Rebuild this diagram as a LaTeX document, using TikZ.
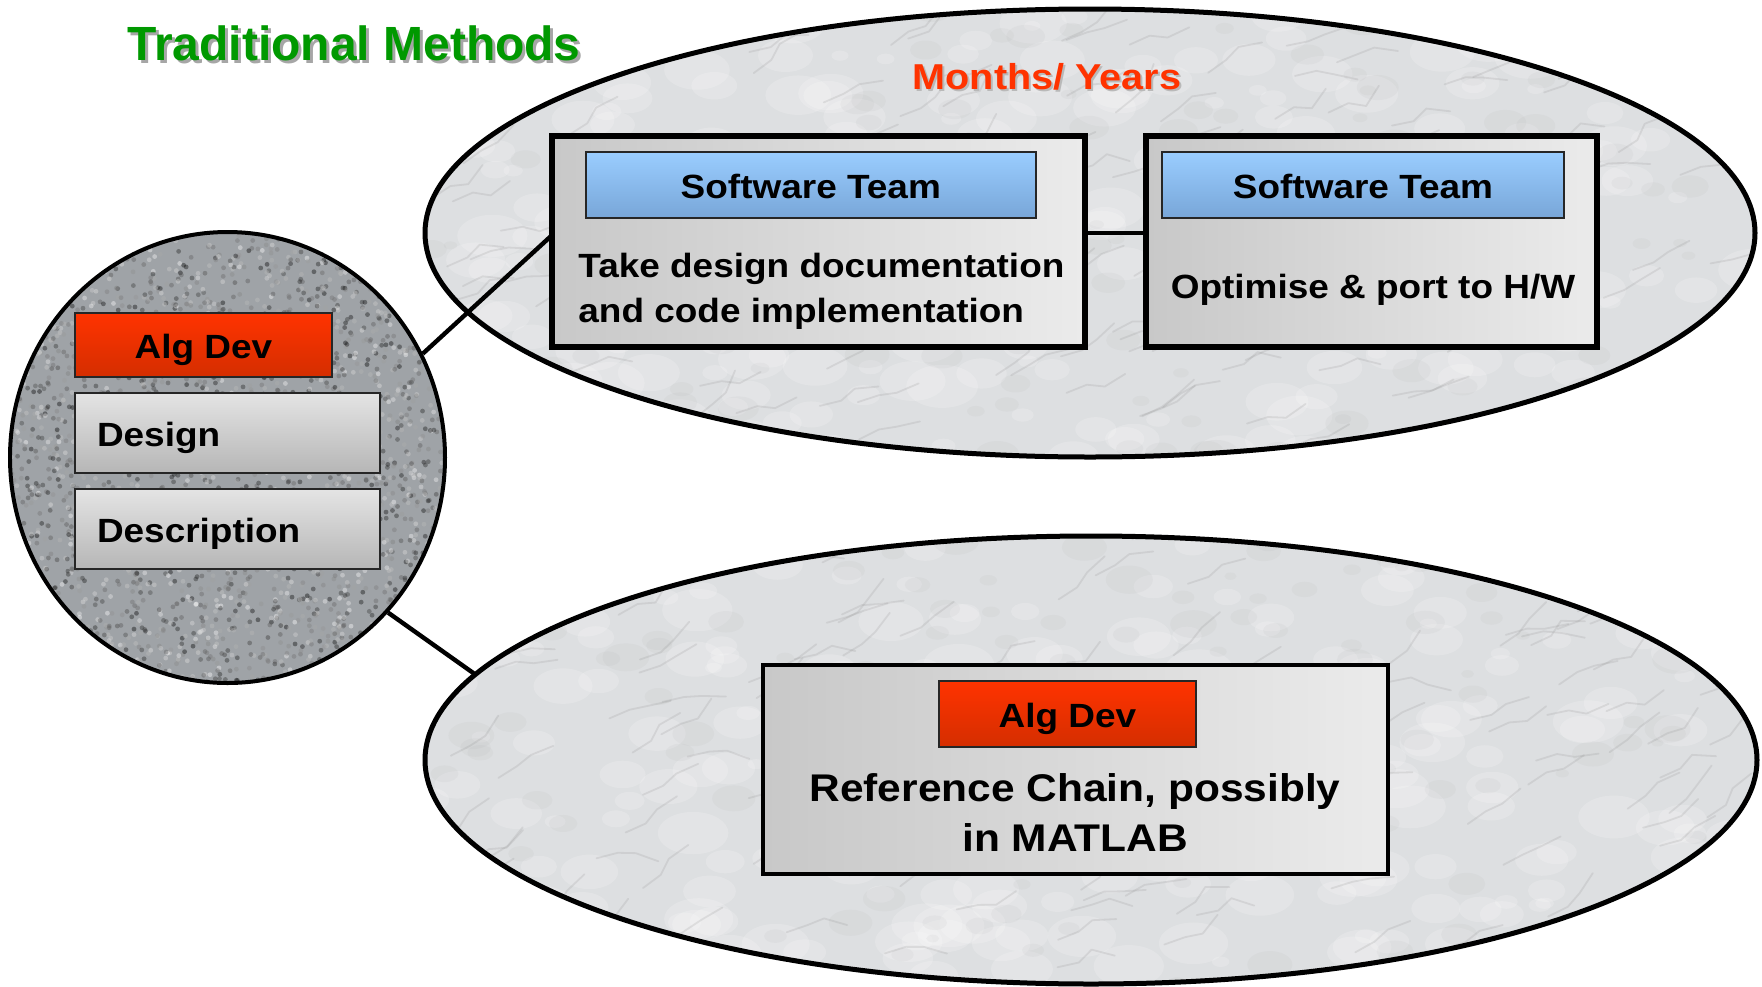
\documentclass[tikz,border=0pt]{standalone}
\usepackage{fontspec}
\setmainfont{Liberation Sans}
\newfontfamily\bodyfont{Liberation Sans}[FakeStretch=1.1]
\usetikzlibrary{shapes.geometric}
\definecolor{titlegreen}{HTML}{009900}
\definecolor{monthred}{HTML}{FF3300}
\definecolor{hdrbluetop}{HTML}{9ACDFF}
\definecolor{hdrbluebot}{HTML}{78A6D8}
\definecolor{hdrredtop}{HTML}{FF3300}
\definecolor{hdrredbot}{HTML}{D42E00}
\definecolor{boxleft}{HTML}{C8C8C8}
\definecolor{boxright}{HTML}{EBEBEB}
\definecolor{itemtop}{HTML}{E4E4E4}
\definecolor{itembot}{HTML}{B6B6B6}
\definecolor{marble}{HTML}{DDDFE1}
\definecolor{granite}{HTML}{9FA3A7}
\tikzset{
  bodytext/.style={font=\bodyfont\bfseries\fontsize{16.8pt}{20pt}\selectfont},
  bigbox/.style={draw=black, line width=2pt, left color=boxleft, right color=boxright, inner sep=0pt, minimum height=104.5pt},
  hdr/.style={draw=black!85, line width=0.8pt, inner sep=0pt, minimum height=33pt, text height=13pt, text depth=0pt, bodytext},
  hdrblue/.style={hdr, top color=hdrbluetop, bottom color=hdrbluebot},
  hdrred/.style={hdr, top color=hdrredtop, bottom color=hdrredbot},
  itembox/.style={draw=black!85, line width=0.8pt, top color=itemtop, bottom color=itembot, minimum height=40pt, inner xsep=11pt, inner ysep=0pt, text width=130.5pt, align=left, text height=13.5pt, text depth=0pt, bodytext},
  oval/.style={draw=black, ellipse, inner sep=0pt},
  conn/.style={draw=black, line width=2.2pt},
}
\begin{document}
\begin{tikzpicture}[x=0.5pt,y=-0.5pt]
\useasboundingbox (0,0) rectangle (1762,986);
\fill[white] (0,0) rectangle (1762,986);
\pgfmathsetseed{7}
% marble textures
\foreach \ccx/\ccy in {1090/233, 1091/760}{
\begin{scope}
\clip (\ccx,\ccy) ellipse [x radius=665, y radius=224];
\fill[marble] (\ccx-670,\ccy-230) rectangle (\ccx+670,\ccy+230);
\foreach \i in {1,...,260}{
  \pgfmathsetmacro\mx{\ccx-665+rnd*1330}
  \pgfmathsetmacro\my{\ccy-224+rnd*448}
  \pgfmathsetmacro\mr{8+rnd*28}
  \pgfmathsetmacro\mrr{0.6*\mr}
  \fill[white,opacity=0.18] (\mx,\my) ellipse [x radius=\mr, y radius=\mrr];
}
\foreach \i in {1,...,140}{
  \pgfmathsetmacro\mx{\ccx-665+rnd*1330}
  \pgfmathsetmacro\my{\ccy-224+rnd*448}
  \pgfmathsetmacro\mr{6+rnd*18}
  \pgfmathsetmacro\mrr{0.6*\mr}
  \fill[black!40,opacity=0.07] (\mx,\my) ellipse [x radius=\mr, y radius=\mrr];
}
\foreach \i in {1,...,140}{
  \pgfmathsetmacro\mx{\ccx-665+rnd*1330}
  \pgfmathsetmacro\my{\ccy-224+rnd*448}
  \pgfmathsetmacro\aa{-40+rnd*30}
  \pgfmathsetmacro\ab{\aa+rand*35}
  \pgfmathsetmacro\ac{\aa+rand*35}
  \draw[black!50,opacity=0.16,line width=0.9pt,line join=round,line cap=round] (\mx,\my) -- ++(\aa:22) -- ++(\ab:18) -- ++(\ac:24);
}
\end{scope}
}
% granite texture
\begin{scope}
\clip (227.5,457.5) ellipse [x radius=217.5, y radius=225.5];
\fill[granite] (8,230) rectangle (447,685);
\foreach \i in {1,...,3000}{
  \pgfmathsetmacro\gx{10+rnd*435}
  \pgfmathsetmacro\gy{232+rnd*451}
  \pgfmathtruncatemacro\gs{rnd*100}
  \fill[black!\gs!white,opacity=0.4] (\gx,\gy) circle [radius=2.4];
}
\end{scope}
% outlines
\node[oval, line width=2.5pt, minimum width=665pt, minimum height=224pt] (ell1) at (1090,233) {};
\node[oval, line width=2.5pt, minimum width=666pt, minimum height=224pt] (ell2) at (1091,760) {};
\node[oval, line width=2pt, minimum width=217.5pt, minimum height=225.5pt] (circ) at (227.5,457.5) {};
% titles
\node[anchor=base, text=gray!70, font=\bfseries\fontsize{24pt}{28pt}\selectfont] at (357,63) {Traditional Methods};
\node[anchor=base, text=titlegreen, font=\bfseries\fontsize{24pt}{28pt}\selectfont] (title) at (354,60) {Traditional Methods};
\node[anchor=base, text=gray!55, font=\bodyfont\bfseries\fontsize{18pt}{22pt}\selectfont] at (1049,91) {Months/ Years};
\node[anchor=base, text=monthred, font=\bodyfont\bfseries\fontsize{18pt}{22pt}\selectfont] (months) at (1047,89) {Months/ Years};
% boxes
\node[bigbox, minimum width=265.75pt] (box1) at (818.3,241.5) {};
\node[bigbox, minimum width=224.5pt] (box2) at (1371.5,241.5) {};
\node[bigbox, minimum width=312.5pt] (box3) at (1075.5,769.5) {};
% connectors
\draw[conn] (circ.28) -- ([yshift=2.5pt]box1.west);
\draw[conn] (circ.-44) -- (ell2.172);
\draw[conn] ([yshift=4.25pt]box1.east) -- ([yshift=4.25pt]box2.west);
% redraw box borders over connector ends
\draw[line width=2pt] (box1.south west) rectangle (box1.north east);
\draw[line width=2pt] (box2.south west) rectangle (box2.north east);
% headers
\node[hdrblue, minimum width=225pt] (hdr1) at (810.8,185) {Software Team};
\node[hdrblue, minimum width=201pt] (hdr2) at (1363,185) {Software Team};
\node[hdrred, minimum width=128.5pt] (hdr3) at (1067.5,714) {Alg Dev};
\node[hdrred, minimum width=128.5pt, minimum height=32pt] (alg) at (203.5,345) {Alg Dev};
\node[itembox] (design) at (227.5,433) {Design};
\node[itembox] (descr) at (227.5,529) {Description};
% body texts
\node[bodytext, anchor=base west, inner sep=0pt] (t1a) at (578,277) {Take design documentation};
\node[bodytext, anchor=base west, inner sep=0pt] (t1b) at (578,322) {and code implementation};
\node[bodytext, anchor=base, inner sep=0pt] (t2) at (1373,298) {Optimise \& port to H/W};
\node[anchor=base, inner sep=0pt, font=\bodyfont\bfseries\fontsize{19.3pt}{23pt}\selectfont] (t3a) at (1075,801.7) {Reference Chain, possibly};
\node[anchor=base, inner sep=0pt, font=\bodyfont\bfseries\fontsize{19.3pt}{23pt}\selectfont] (t3b) at (1075,851.7) {in MATLAB};
\end{tikzpicture}
\end{document}
